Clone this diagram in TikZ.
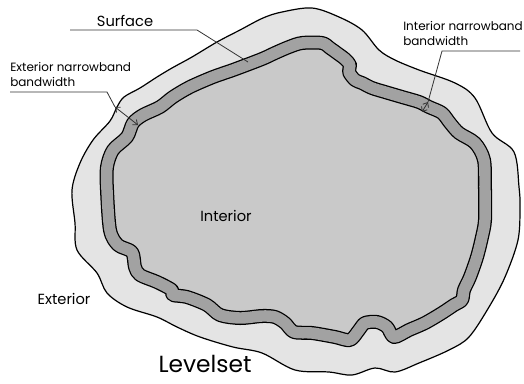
\documentclass[tikz,border=0pt]{standalone}
\usepackage{fontspec}
\setmainfont{Poppins}
\usepackage{xcolor}
\definecolor{lsExterior}{HTML}{E4E4E4}
\definecolor{lsBand}{HTML}{A2A2A2}
\definecolor{lsInterior}{HTML}{C9C9C9}
\usepackage{tikz}
\usetikzlibrary{arrows.meta}

\begin{document}
\begin{tikzpicture}[
		x=0.75pt, y=-0.75pt,
		outline/.style={draw=black, line width=0.9pt},
		leader/.style={draw=black!80, line width=0.6pt},
		dimarrow/.style={leader, {Straight Barb[length=3pt,width=5pt]}-{Straight Barb[length=3pt,width=5pt]}},
		label/.style={inner sep=0pt, align=left, font=\fontsize{9}{11}\selectfont},
		region/.style={inner sep=0pt, font=\fontsize{11}{13}\selectfont}
		]
		\useasboundingbox (0,0) rectangle (524,383);

		% exterior narrow band
		\filldraw[outline, fill=lsExterior] plot[smooth cycle, tension=0.55] coordinates {
			(72,190) (80,163) (93,140) (110,121) (117,107) (124,97) (140,88) (157,77)
			(172,68) (192,57) (217,42) (240,30) (263,18) (282,12) (312,8) (339,17)
			(362,30) (379,50) (395,60) (419,70) (455,83) (475,98) (492,133) (514,152)
			(519,187) (520,207) (518,240) (505,277) (489,307) (469,337) (449,350) (419,363)
			(395,372) (375,368) (352,375) (329,372) (295,370) (262,353) (233,347) (200,337)
			(177,327) (157,317) (127,307) (107,293) (97,273) (77,250) (75,223)};

		% surface with interior band
		\def\surfpath{plot[smooth cycle, tension=0.5] coordinates {
			(107,190) (107,167) (113,150) (127,137) (133,123) (143,115) (160,107) (173,97)
			(190,87) (213,77) (233,70) (262,59) (275,53) (289,47) (302,43) (322,43)
			(330,48) (337,53) (345,59) (350,65) (349,72) (355,80) (362,83) (372,88)
			(385,92) (402,97) (419,102) (429,107) (442,113) (450,123) (459,133) (475,143)
			(484,160) (485,190) (485,220) (482,237) (477,257) (470,277) (464,290) (462,300)
			(454,305) (442,313) (425,323) (409,330) (394,337) (387,327) (377,322) (365,323)
			(359,330) (350,340) (335,337) (312,333) (294,332) (285,323) (275,317) (262,316)
			(240,318) (220,315) (207,305) (187,297) (173,295) (172,290) (157,282) (140,275)
			(135,267) (132,252) (118,245) (110,230)}}
		\fill[lsInterior] \surfpath;
		\draw[black, line width=10.5pt, line join=round] \surfpath;
		\draw[lsBand, line width=8.6pt, line join=round] \surfpath;

		% labels
		\node[region] (interior) at (226,216) {Interior};
		\node[region] (exterior) at (64,299) {Exterior};
		\node[inner sep=0pt, font=\fontsize{17.5}{20}\selectfont] (levelset) at (205,364) {Levelset};
		\node[inner sep=0pt, font=\fontsize{11}{13}\selectfont] (surface) at (125,21) {Surface};
		\node[label, anchor=north west] (extlabel) at (10,62) {Exterior narrowband\\bandwidth};
		\node[label, anchor=north west] (intlabel) at (403,21) {Interior narrowband\\bandwidth};

		\coordinate (surfL) at (70,30);
		\coordinate (surfK) at (197,30);
		\coordinate (surfP) at (248,62);
		\draw[leader] (surfL) -- (surfK) -- (surfP);

		\coordinate (extL) at (10,92);
		\coordinate (extK) at (107,92);
		\coordinate (extA) at (115,107);
		\coordinate (extB) at (138,125);
		\draw[leader] (extL) -- (extK) -- (extA);
		\draw[dimarrow] (extA) -- (extB);

		\coordinate (intR) at (520,51);
		\coordinate (intK) at (442,51);
		\coordinate (intA) at (428,102);
		\coordinate (intB) at (422,112);
		\draw[leader] (intR) -- (intK) -- (intA);
		\draw[dimarrow] (intA) -- (intB);

	\end{tikzpicture}
\end{document}
